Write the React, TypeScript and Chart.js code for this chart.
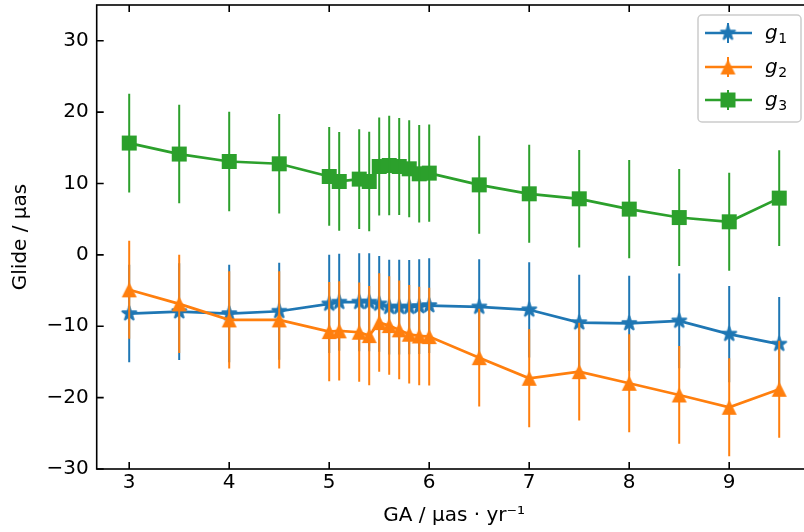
import React, { useEffect, useRef } from "react";
import { Chart, registerables } from "chart.js";

Chart.register(...registerables);

// ---------- data ----------
const gaValues = [3, 3.5, 4, 4.5, 5, 5.1, 5.3, 5.4, 5.5, 5.6, 5.7, 5.8, 5.9, 6, 6.5, 7, 7.5, 8, 8.5, 9, 9.5];

const g1Values = [-8.23, -7.95, -8.23, -7.9, -6.87, -6.63, -6.63, -6.63, -6.87, -7.33, -7.33, -7.33, -7.24, -7.1, -7.3, -7.7, -9.5, -9.6, -9.25, -11.1, -12.5];
const g1Errors = [6.83, 6.79, 6.83, 6.78, 6.87, 6.8, 6.87, 6.87, 6.7, 6.63, 6.63, 6.6, 6.64, 6.64, 6.7, 6.68, 6.7, 6.67, 6.65, 6.75, 6.6];

const g2Values = [-4.9, -6.87, -9.11, -9.11, -10.75, -10.65, -10.84, -11.31, -9.49, -9.91, -10.51, -11.12, -11.36, -11.45, -14.4, -17.29, -16.36, -17.99, -19.63, -21.35, -18.83];
const g2Errors = [6.86, 6.87, 6.8, 6.8, 6.95, 6.95, 6.95, 6.95, 6.9, 6.9, 6.9, 6.9, 6.9, 6.85, 6.85, 6.85, 6.85, 6.85, 6.85, 6.85, 6.8];

const g3Values = [15.66, 14.12, 13.08, 12.76, 10.98, 10.28, 10.61, 10.28, 12.38, 12.52, 12.38, 12.06, 11.36, 11.45, 9.81, 8.55, 7.85, 6.41, 5.23, 4.63, 7.95];
const g3Errors = [6.92, 6.9, 6.98, 6.96, 6.92, 6.92, 7.0, 6.96, 6.87, 6.97, 6.8, 6.8, 6.82, 6.82, 6.87, 6.87, 6.83, 6.87, 6.8, 6.87, 6.7];

const seriesNames = ["g", "g", "g"];
const seriesSubscripts = ["1", "2", "3"];
const seriesColors = ["#1f77b4", "#ff7f0e", "#2ca02c"];

const xTicks = [3, 4, 5, 6, 7, 8, 9];
const yTicks = [-30, -20, -10, 0, 10, 20, 30];
const xMin = 2.675;
const xMax = 9.825;
const yMin = -30;
const yMax = 35;

const xTitle = "GA / \u03bcas \u00b7 yr\u207b\u00b9";
const yTitle = "Glide / \u03bcas";

const FONT = "'DejaVu Sans', 'Liberation Sans', sans-serif";

// ---------- markers ----------
function makeStar(color: string, r: number) {
  const size = Math.ceil(2 * r + 4);
  const c = document.createElement("canvas");
  c.width = size;
  c.height = size;
  const ctx = c.getContext("2d")!;
  const cx = size / 2;
  const cy = size / 2;
  const inner = r * 0.381966;
  ctx.beginPath();
  for (let i = 0; i < 10; i++) {
    const rad = i % 2 === 0 ? r : inner;
    const a = -Math.PI / 2 + (i * Math.PI) / 5;
    const px = cx + rad * Math.cos(a);
    const py = cy + rad * Math.sin(a);
    if (i === 0) ctx.moveTo(px, py);
    else ctx.lineTo(px, py);
  }
  ctx.closePath();
  ctx.fillStyle = color;
  ctx.strokeStyle = color;
  ctx.lineWidth = 2;
  ctx.lineJoin = "round";
  ctx.fill();
  ctx.stroke();
  return c;
}

function makeTriangle(color: string, s: number) {
  const size = Math.ceil(s + 4);
  const c = document.createElement("canvas");
  c.width = size;
  c.height = size;
  const ctx = c.getContext("2d")!;
  const cx = size / 2;
  const cy = size / 2;
  ctx.beginPath();
  ctx.moveTo(cx, cy - s / 2);
  ctx.lineTo(cx + s / 2, cy + s / 2);
  ctx.lineTo(cx - s / 2, cy + s / 2);
  ctx.closePath();
  ctx.fillStyle = color;
  ctx.fill();
  return c;
}

function makeSquare(color: string, s: number) {
  const size = Math.ceil(s + 2);
  const c = document.createElement("canvas");
  c.width = size;
  c.height = size;
  const ctx = c.getContext("2d")!;
  const o = (size - s) / 2;
  ctx.fillStyle = color;
  ctx.fillRect(o, o, s, s);
  return c;
}

export default function App() {
  const ref = useRef<HTMLCanvasElement | null>(null);

  useEffect(() => {
    if (!ref.current) return;
    const markers = [
      makeStar(seriesColors[0], 7.3),
      makeTriangle(seriesColors[1], 15),
      makeSquare(seriesColors[2], 15),
    ];
    const allValues = [g1Values, g2Values, g3Values];
    const allErrors = [g1Errors, g2Errors, g3Errors];

    const errorPlugin = {
      id: "errbars",
      afterDatasetDraw(chart: any, args: any) {
        const i = args.index;
        const ctx = chart.ctx;
        const xs = chart.scales.x;
        const ys = chart.scales.y;
        const area = chart.chartArea;
        ctx.save();
        ctx.beginPath();
        ctx.rect(area.left, area.top, area.right - area.left, area.bottom - area.top);
        ctx.clip();
        ctx.strokeStyle = seriesColors[i];
        ctx.lineWidth = 2;
        ctx.lineCap = "butt";
        gaValues.forEach((gx, k) => {
          const v = allValues[i][k];
          const e = allErrors[i][k];
          const px = xs.getPixelForValue(gx);
          ctx.beginPath();
          ctx.moveTo(px, ys.getPixelForValue(v + e));
          ctx.lineTo(px, ys.getPixelForValue(v - e));
          ctx.stroke();
        });
        ctx.restore();
      },
      afterDraw(chart: any) {
        const ctx = chart.ctx;
        const xs = chart.scales.x;
        const ys = chart.scales.y;
        const a = chart.chartArea;
        ctx.save();
        // spines
        ctx.strokeStyle = "#000";
        ctx.lineWidth = 1.6;
        ctx.strokeRect(a.left, a.top, a.right - a.left, a.bottom - a.top);
        // inward ticks
        const tl = 7;
        xTicks.forEach((t) => {
          const px = xs.getPixelForValue(t);
          ctx.beginPath();
          ctx.moveTo(px, a.bottom);
          ctx.lineTo(px, a.bottom - tl);
          ctx.moveTo(px, a.top);
          ctx.lineTo(px, a.top + tl);
          ctx.stroke();
        });
        yTicks.forEach((t) => {
          const py = ys.getPixelForValue(t);
          ctx.beginPath();
          ctx.moveTo(a.left, py);
          ctx.lineTo(a.left + tl, py);
          ctx.moveTo(a.right, py);
          ctx.lineTo(a.right - tl, py);
          ctx.stroke();
        });
        // legend
        const bx = 698, by = 15, bw = 103, bh = 107;
        ctx.beginPath();
        ctx.roundRect(bx, by, bw, bh, 4);
        ctx.fillStyle = "rgba(255,255,255,0.8)";
        ctx.fill();
        ctx.strokeStyle = "#cccccc";
        ctx.lineWidth = 1.5;
        ctx.stroke();
        const rows = [33, 67, 100];
        rows.forEach((ry, i) => {
          ctx.strokeStyle = seriesColors[i];
          ctx.lineWidth = 2.7;
          ctx.beginPath();
          ctx.moveTo(705, ry);
          ctx.lineTo(752, ry);
          ctx.stroke();
          ctx.lineWidth = 2;
          ctx.beginPath();
          ctx.moveTo(728, ry - 10);
          ctx.lineTo(728, ry + 10);
          ctx.stroke();
          const m = markers[i];
          ctx.drawImage(m, 728 - m.width / 2, ry - m.height / 2);
          ctx.fillStyle = "#000";
          ctx.textAlign = "left";
          ctx.textBaseline = "alphabetic";
          ctx.font = `italic 20px ${FONT}`;
          ctx.fillText(seriesNames[i], 765, ry + 6);
          const gw = ctx.measureText(seriesNames[i]).width;
          ctx.font = `14px ${FONT}`;
          ctx.fillText(seriesSubscripts[i], 765 + gw + 0.5, ry + 10);
        });
        ctx.restore();
      },
    };

    const datasets = [0, 1, 2].map((i) => ({
      label: seriesNames[i] + seriesSubscripts[i],
      data: gaValues.map((x, k) => ({ x, y: allValues[i][k] })),
      borderColor: seriesColors[i],
      backgroundColor: seriesColors[i],
      borderWidth: 2.7,
      pointStyle: markers[i],
      pointRadius: 8,
      pointHoverRadius: 8,
      tension: 0,
      order: 3 - i,
      showLine: true,
    }));

    const chart = new Chart(ref.current, {
      type: "scatter",
      data: { datasets: datasets as any },
      plugins: [errorPlugin],
      options: {
        responsive: false,
        animation: false,
        devicePixelRatio: 1,
        layout: { autoPadding: false, padding: { left: 0, top: 5, right: 830 - 811.7, bottom: 0 } },
        plugins: { legend: { display: false }, tooltip: { enabled: false } },
        scales: {
          x: {
            type: "linear",
            min: xMin,
            max: xMax,
            grid: { display: false, drawTicks: false },
            border: { display: false },
            afterBuildTicks: (s: any) => {
              s.ticks = xTicks.map((v) => ({ value: v }));
            },
            afterFit: (s: any) => {
              s.height = 63;
              s.paddingLeft = 0;
              s.paddingRight = 0;
            },
            ticks: {
              color: "#000",
              padding: 2,
              font: { family: FONT, size: 20 },
              maxRotation: 0,
              callback: (v: any) => String(v),
            },
            title: {
              display: true,
              text: xTitle,
              color: "#000",
              font: { family: FONT, size: 20 },
              padding: { top: 0, bottom: 4 },
            },
          },
          y: {
            type: "linear",
            min: yMin,
            max: yMax,
            grid: { display: false, drawTicks: false },
            border: { display: false },
            afterBuildTicks: (s: any) => {
              s.ticks = yTicks.map((v) => ({ value: v }));
            },
            afterFit: (s: any) => {
              s.width = 96.7;
              s.paddingTop = 0;
              s.paddingBottom = 0;
            },
            ticks: {
              color: "#000",
              padding: 8,
              font: { family: FONT, size: 20 },
              callback: (v: any) => (Number(v) < 0 ? "\u2212" + Math.abs(Number(v)) : String(v)),
            },
            title: {
              display: true,
              text: yTitle,
              color: "#000",
              font: { family: FONT, size: 20 },
              padding: { top: 8.5, bottom: 0 },
            },
          },
        },
      } as any,
    });
    return () => chart.destroy();
  }, []);

  return (
    <div style={{ position: "absolute", left: 0, top: 0, width: 804, height: 532, overflow: "hidden", background: "#fff" }}>
      <canvas ref={ref} width={830} height={532} style={{ display: "block", width: 830, height: 532 }} />
    </div>
  );
}
